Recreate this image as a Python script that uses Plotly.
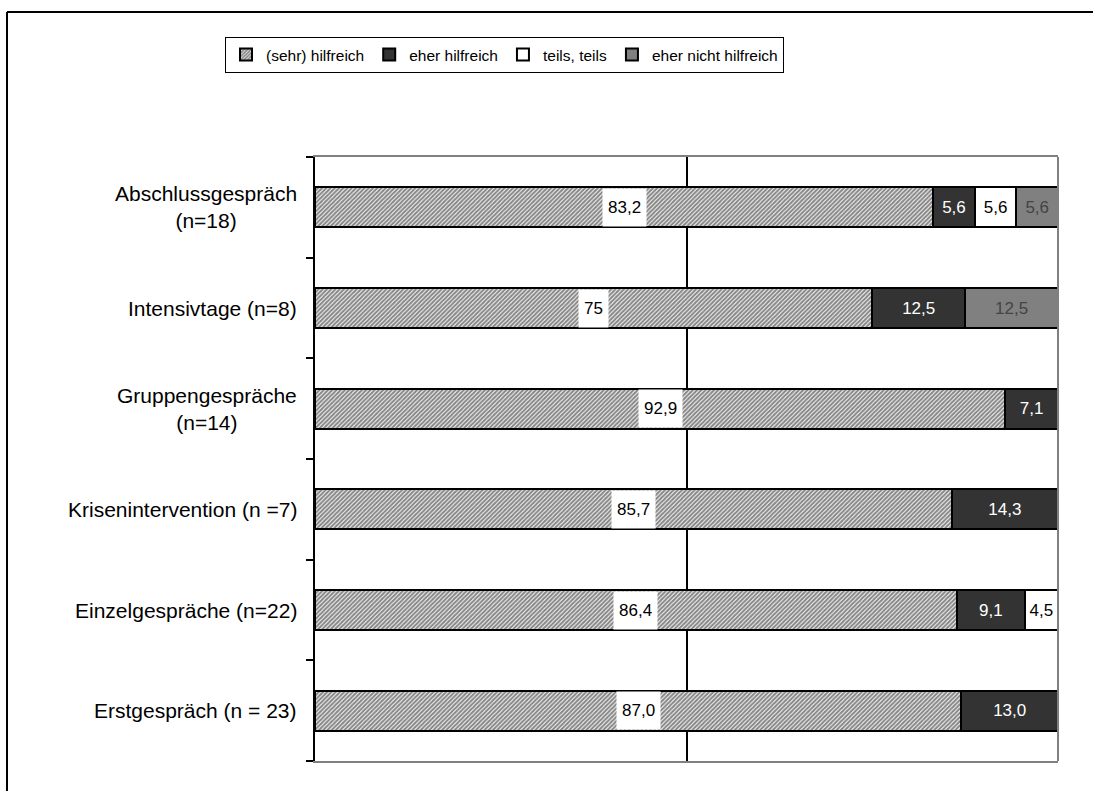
import plotly.graph_objects as go

# Categories listed bottom to top
categories = [
    "Erstgespräch (n = 23)",
    "Einzelgespräche (n=22)",
    "Krisenintervention (n =7)",
    "Gruppengespräche<br>(n=14)",
    "Intensivtage (n=8)",
    "Abschlussgespräch<br>(n=18)",
]

series_names = ["(sehr) hilfreich", "eher hilfreich", "teils, teils", "eher nicht hilfreich"]

sehr_hilfreich = [87.0, 86.4, 85.7, 92.9, 75, 83.2]
eher_hilfreich = [13.0, 9.1, 14.3, 7.1, 12.5, 5.6]
teils_teils = [None, 4.5, None, None, None, 5.6]
eher_nicht_hilfreich = [None, None, None, None, 12.5, 5.6]

# Printed labels (German decimal comma)
sehr_text = ["87,0", "86,4", "85,7", "92,9", "75", "83,2"]
eher_text = ["13,0", "9,1", "14,3", "7,1", "12,5", "5,6"]
teils_text = ["", "4,5", "", "", "", "5,6"]
nicht_text = ["", "", "", "", "12,5", "5,6"]

W, H = 1093, 791
ML, MR, MT, MB = 315, 35, 157, 30
PW, PH = W - ML - MR, H - MT - MB

FONT = "Arial, Liberation Sans, sans-serif"
outline = dict(color="black", width=2)
LABEL_SIZE = 17

fig = go.Figure()

fig.add_trace(go.Bar(
    name=series_names[0], y=categories, x=sehr_hilfreich, orientation="h",
    marker=dict(color="white", line=outline,
                pattern=dict(shape="/", fgcolor="#111111", bgcolor="white",
                             size=3, solidity=0.7)),
    hoverinfo="x+y",
))
fig.add_trace(go.Bar(
    name=series_names[1], y=categories, x=eher_hilfreich, orientation="h",
    marker=dict(color="#333333", line=outline),
    text=eher_text, textposition="inside", insidetextanchor="middle",
    textfont=dict(family=FONT, size=LABEL_SIZE, color="white"),
))
fig.add_trace(go.Bar(
    name=series_names[2], y=categories, x=teils_teils, orientation="h",
    marker=dict(color="white", line=outline),
    text=teils_text, textposition="inside", insidetextanchor="middle",
    textfont=dict(family=FONT, size=LABEL_SIZE, color="black"),
))
fig.add_trace(go.Bar(
    name=series_names[3], y=categories, x=eher_nicht_hilfreich, orientation="h",
    marker=dict(color="#808080", line=outline),
    text=nicht_text, textposition="inside", insidetextanchor="middle",
    textfont=dict(family=FONT, size=LABEL_SIZE, color="#444444"),
))

annotations = []
# Value labels on white boxes in the middle of the hatched segments
for cat, v, t in zip(categories, sehr_hilfreich, sehr_text):
    annotations.append(dict(
        x=v / 2, y=cat, xref="x", yref="y", text=t, showarrow=False,
        font=dict(family=FONT, size=LABEL_SIZE, color="black"),
        bgcolor="white", borderpad=5, height=27,
    ))
# Category labels: centred lines, block right-aligned next to the axis
for cat in categories:
    annotations.append(dict(
        x=0, y=cat, xref="paper", yref="y", text=cat, showarrow=False,
        xanchor="right", align="center", xshift=-16,
        font=dict(family=FONT, size=21, color="black"),
    ))

shapes = [
    # right edge of the plot area
    dict(type="line", xref="paper", yref="paper", x0=1, x1=1, y0=0, y1=1,
         line=dict(color="#808080", width=2)),
    # outer chart frame (only top and left edges fall inside the page)
    dict(type="line", xref="paper", yref="paper",
         x0=(7 - ML) / PW, x1=(W - ML) / PW,
         y0=(H - MB - 12) / PH, y1=(H - MB - 12) / PH,
         line=dict(color="black", width=2), layer="below"),
    dict(type="line", xref="paper", yref="paper",
         x0=(7 - ML) / PW, x1=(7 - ML) / PW,
         y0=-MB / PH, y1=(H - MB - 12) / PH,
         line=dict(color="black", width=2), layer="below"),
]

fig.update_layout(
    width=W, height=H,
    margin=dict(l=ML, r=MR, t=MT, b=MB),
    paper_bgcolor="white", plot_bgcolor="white",
    barmode="stack", bargap=0.6,
    font=dict(family=FONT, size=16, color="black"),
    showlegend=True,
    legend=dict(
        orientation="h", traceorder="normal",
        x=(225 - ML) / PW, y=(H - MB - 37) / PH,
        xanchor="left", yanchor="top",
        bordercolor="black", borderwidth=1, bgcolor="white",
        font=dict(family=FONT, size=15.5, color="black"),
        itemwidth=30, tracegroupgap=0,
    ),
    xaxis=dict(
        range=[0, 100], tickvals=[50], showticklabels=False, ticks="",
        showgrid=True, gridcolor="black", gridwidth=1.5, zeroline=False,
        showline=True, linecolor="#808080", linewidth=2, mirror=True,
        fixedrange=True,
    ),
    yaxis=dict(
        type="category", categoryorder="array", categoryarray=categories,
        range=[-0.5, len(categories) - 0.5],
        showticklabels=False, ticks="outside", tickson="boundaries",
        ticklen=7, tickwidth=2, tickcolor="black",
        showline=True, linecolor="black", linewidth=2,
        showgrid=False, zeroline=False, fixedrange=True,
    ),
    annotations=annotations,
    shapes=shapes,
)

fig.write_html("out.html")
